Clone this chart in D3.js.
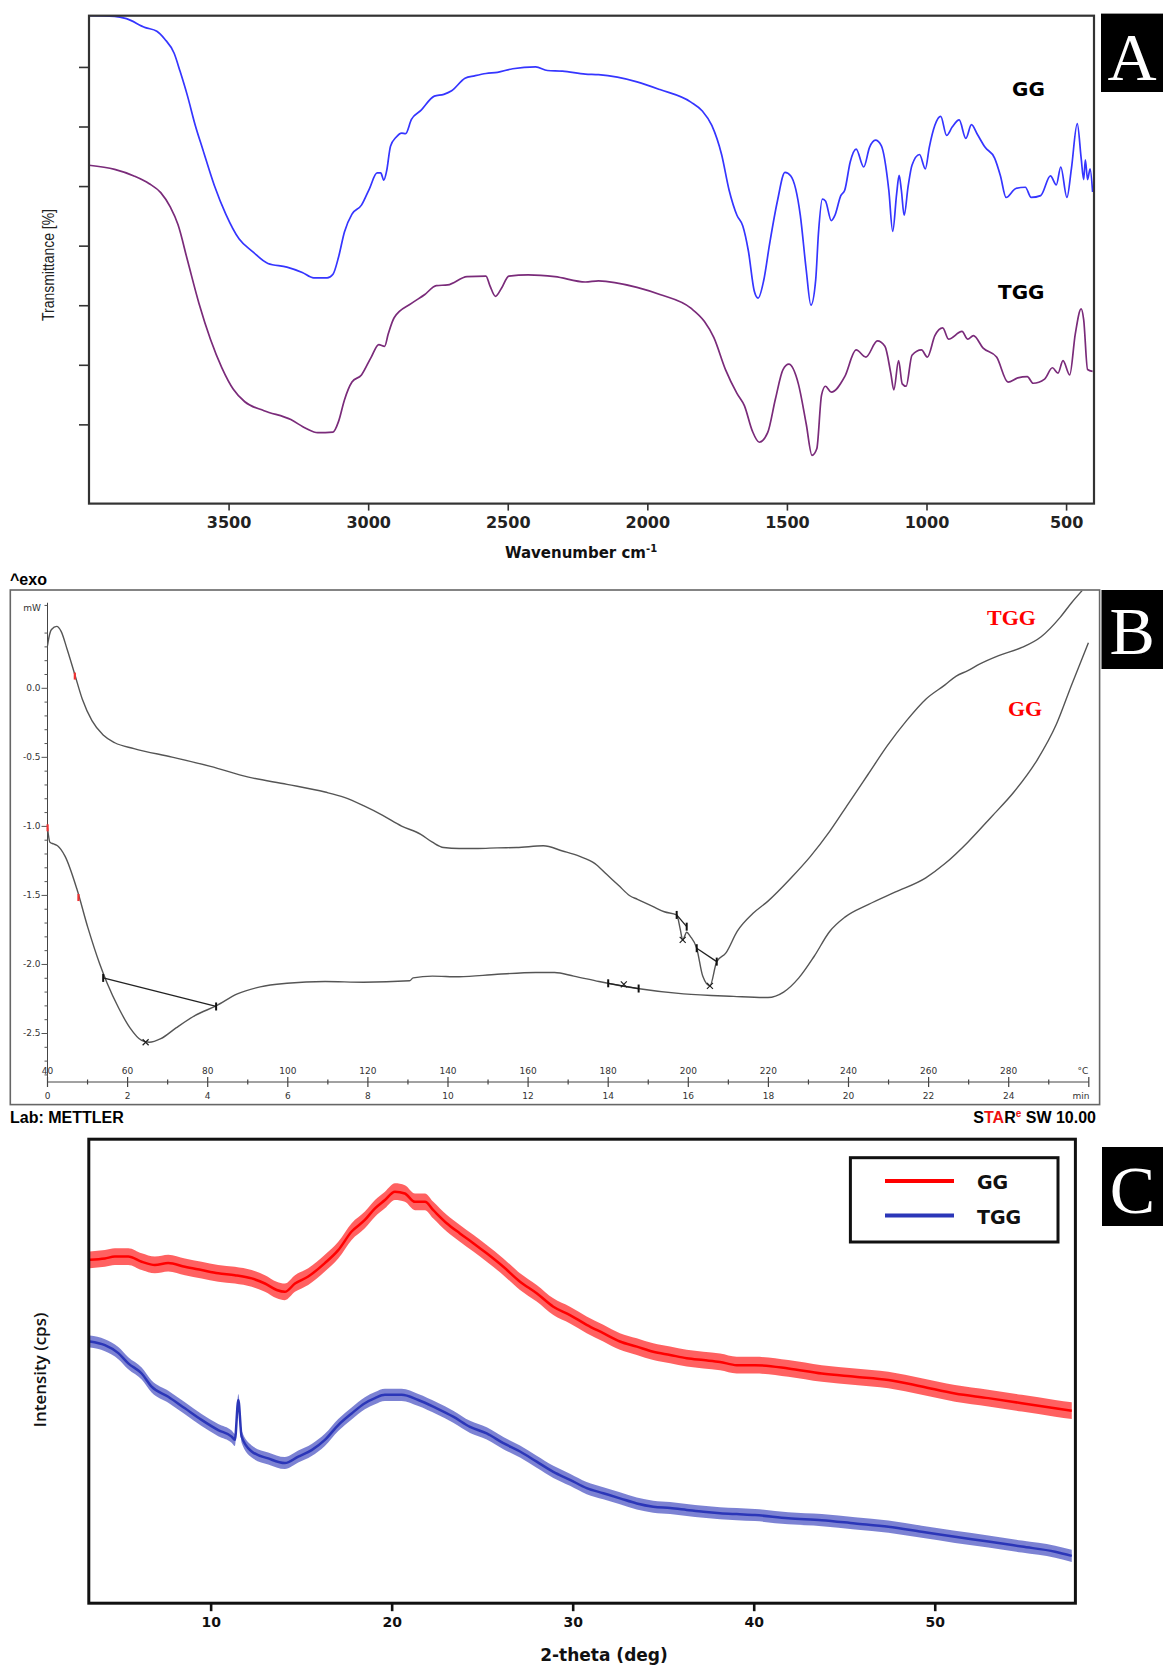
<!DOCTYPE html>
<html>
<head>
<meta charset="utf-8">
<title>FTIR, DSC and XRD of GG and TGG</title>
<style>
  body { margin: 0; background: #fff; }
  svg { display: block; }
  .vb { font-family: "DejaVu Sans", Verdana, sans-serif; font-weight: bold; }
  .ar { font-family: "Liberation Sans", Arial, sans-serif; }
  .sm { font-family: "DejaVu Sans", Verdana, sans-serif; font-size: 9px; fill: #333; }
  .letter { font-family: "Liberation Serif", "Times New Roman", serif; fill: #fff; font-size: 68px; }
</style>
</head>
<body>
<script src="https://cdn.jsdelivr.net/npm/d3@7"></script>
<script>
// ---- panel A : FTIR  [wavenumber cm-1, transmittance %]
var ftirGG = [[4000,88.6],[3908,88.5],[3866,88.1],[3798,86.6],[3757,86.0],[3729,84.7],[3695,82.3],[3674,79.3],[3647,75.1],[3620,70.3],[3592,66.1],[3551,60.1],[3510,55.3],[3462,51.1],[3414,49.0],[3359,47.0],[3291,46.4],[3236,45.5],[3195,44.6],[3147,44.6],[3126,45.2],[3106,48.1],[3085,52.3],[3058,55.3],[3024,56.8],[2996,59.5],[2968,62.2],[2955,62.2],[2944,61.0],[2934,62.5],[2920,66.7],[2900,68.2],[2880,68.9],[2866,68.8],[2845,71.2],[2811,72.7],[2763,75.1],[2729,75.4],[2701,76.0],[2653,78.1],[2619,78.5],[2578,78.9],[2537,79.1],[2482,79.7],[2400,80.0],[2358,79.4],[2304,79.3],[2222,78.8],[2175,78.7],[2037,77.5],[1955,76.2],[1844,74.1],[1803,72.6],[1769,70.2],[1734,65.3],[1707,59.3],[1679,55.1],[1658,53.3],[1638,49.1],[1617,42.4],[1603,41.2],[1583,44.2],[1562,50.3],[1534,57.5],[1507,62.3],[1486,61.7],[1452,55.1],[1431,46.0],[1414,40.0],[1397,44.2],[1387,52.1],[1373,57.8],[1362,57.5],[1341,54.2],[1328,55.1],[1307,58.4],[1293,59.3],[1273,64.1],[1252,66.2],[1225,63.2],[1204,66.5],[1183,67.7],[1162,66.8],[1135,59.3],[1121,52.4],[1107,58.7],[1098,61.8],[1090,59.3],[1080,55.1],[1066,59.9],[1052,63.5],[1025,65.3],[1004,62.9],[990,66.5],[970,70.2],[949,71.7],[928,68.5],[908,69.9],[883,71.1],[859,68.0],[839,70.3],[818,68.7],[790,66.5],[756,64.7],[735,61.7],[715,58.1],[680,59.6],[646,59.8],[625,58.1],[591,58.4],[556,61.7],[535,60.2],[519,63.2],[497,58.1],[481,62.9],[460,70.5],[446,64.7],[437,61.1],[431,64.4],[423,61.1],[414,62.9],[405,59.0]];
var ftirTGG = [[4000,63.5],[3908,62.8],[3839,61.7],[3784,60.4],[3743,58.9],[3709,56.5],[3681,53.5],[3647,47.5],[3606,40.3],[3565,34.3],[3524,29.5],[3483,25.9],[3442,23.8],[3373,22.3],[3277,20.8],[3222,19.3],[3181,18.6],[3126,18.7],[3106,20.5],[3085,24.1],[3058,27.1],[3024,28.3],[2989,31.3],[2962,33.4],[2941,33.1],[2928,35.2],[2907,37.9],[2845,40.3],[2797,41.8],[2756,43.3],[2715,43.4],[2646,44.8],[2578,44.9],[2564,43.3],[2544,41.5],[2523,42.8],[2496,44.9],[2427,45.1],[2331,44.8],[2222,43.9],[2175,44.1],[2037,43.0],[1955,41.8],[1844,39.5],[1796,37.3],[1762,34.6],[1720,29.2],[1679,25.2],[1652,23.1],[1624,18.9],[1599,17.0],[1569,18.6],[1541,24.3],[1514,29.2],[1493,30.1],[1459,26.8],[1431,20.1],[1410,14.8],[1393,15.9],[1376,24.9],[1362,26.4],[1341,25.4],[1293,28.0],[1252,32.5],[1217,31.3],[1176,34.0],[1149,33.1],[1128,28.6],[1117,25.8],[1100,30.7],[1087,26.8],[1073,26.4],[1052,31.6],[1018,32.5],[997,31.3],[970,34.9],[942,36.2],[921,34.3],[873,35.6],[852,34.3],[832,34.9],[797,32.8],[749,31.3],[708,27.1],[673,27.8],[639,28.0],[618,26.9],[577,27.6],[549,29.5],[529,28.6],[511,30.7],[487,28.3],[467,35.2],[446,39.4],[437,37.6],[423,29.2],[405,28.9]];
var ftirXTicks = [3500, 3000, 2500, 2000, 1500, 1000, 500];
var ftirYTicks = [20, 30, 40, 50, 60, 70, 80];

// ---- panel B : DSC  [time min, heat flow mW]
var dscTGG = [[0,0.305],[0.03,0.357],[0.1,0.422],[0.23,0.445],[0.34,0.409],[0.49,0.279],[0.68,0.098],[0.87,-0.083],[1.11,-0.238],[1.39,-0.342],[1.68,-0.398],[2.16,-0.44],[3.11,-0.502],[4.07,-0.569],[5.02,-0.647],[5.98,-0.699],[6.93,-0.755],[7.41,-0.794],[7.89,-0.854],[8.37,-0.924],[8.84,-1.001],[9.32,-1.061],[9.61,-1.118],[9.89,-1.157],[10.28,-1.164],[10.75,-1.164],[11.23,-1.159],[11.71,-1.157],[12.38,-1.144],[12.86,-1.182],[13.29,-1.221],[13.67,-1.273],[13.96,-1.351],[14.25,-1.428],[14.54,-1.506],[14.73,-1.532],[15.11,-1.583],[15.4,-1.622],[15.71,-1.645],[15.8,-1.75],[15.86,-1.826],[15.96,-1.77],[16.05,-1.8],[16.21,-1.886],[16.36,-2.088],[16.54,-2.159],[16.71,-1.983],[16.94,-1.92],[17.22,-1.764],[17.61,-1.635],[17.99,-1.545],[18.57,-1.376],[19.05,-1.221],[19.53,-1.04],[20.01,-0.833],[20.49,-0.626],[20.97,-0.419],[21.45,-0.238],[21.93,-0.083],[22.41,0.021],[22.69,0.085],[22.98,0.124],[23.27,0.171],[23.75,0.233],[24.33,0.292],[24.81,0.37],[25.29,0.512],[25.57,0.616],[25.84,0.706]];
var dscGG = [[0,-1.014],[0.06,-1.118],[0.15,-1.131],[0.25,-1.144],[0.44,-1.221],[0.73,-1.454],[1.01,-1.739],[1.3,-1.997],[1.49,-2.14],[1.78,-2.321],[2.06,-2.463],[2.35,-2.554],[2.54,-2.567],[2.83,-2.541],[3.21,-2.463],[3.69,-2.373],[4.21,-2.303],[4.74,-2.217],[5.31,-2.166],[5.98,-2.14],[6.93,-2.127],[7.89,-2.132],[9.04,-2.122],[9.13,-2.101],[9.61,-2.088],[10.28,-2.093],[11.23,-2.075],[12.19,-2.062],[12.66,-2.062],[13.14,-2.088],[13.77,-2.127],[14.73,-2.178],[15.88,-2.217],[17.13,-2.235],[17.99,-2.243],[18.38,-2.204],[18.76,-2.101],[19.14,-1.946],[19.53,-1.765],[19.91,-1.661],[20.49,-1.57],[21.16,-1.48],[21.93,-1.376],[22.41,-1.273],[22.98,-1.118],[23.56,-0.937],[24.13,-0.755],[24.71,-0.523],[25.19,-0.264],[25.57,0.021],[25.99,0.326]];
var dscYMajor = [0, -0.5, -1, -1.5, -2, -2.5];
var dscMinTicks = [0, 2, 4, 6, 8, 10, 12, 14, 16, 18, 20, 22, 24];
var dscTempTicks = [40, 60, 80, 100, 120, 140, 160, 180, 200, 220, 240, 260, 280];
// evaluation marks drawn by the instrument software
var dscBaselines = [[[1.39,-2.101],[4.21,-2.308]], [[14.0,-2.14],[14.76,-2.178]], [[15.71,-1.645],[15.96,-1.73]], [[16.21,-1.886],[16.71,-1.983]]];
var dscPeaks = [[2.45,-2.567],[14.39,-2.148],[15.86,-1.826],[16.54,-2.159]];
var dscRedMarks = [[0.68,0.085],[0.77,-1.519],[0,-1.014]];

// ---- panel C : XRD  [2-theta deg, intensity]
var xrdGG = [[3.33,74.0],[4.16,74.3],[4.71,74.7],[5.45,74.7],[6.19,73.6],[6.92,72.9],[7.66,73.3],[8.58,72.5],[9.5,71.8],[10.42,71.1],[11.34,70.7],[12.27,70.0],[13.0,68.9],[13.65,67.5],[14.1,67.1],[14.66,68.9],[15.39,70.4],[16.31,73.3],[17.05,76.1],[17.79,80.1],[18.52,82.6],[19.08,85.1],[19.63,86.9],[20.18,88.7],[20.73,88.3],[21.29,86.5],[21.84,86.5],[22.3,84.7],[23.04,81.9],[23.77,79.7],[24.51,77.6],[25.25,75.4],[26.17,72.5],[27.09,69.3],[28.01,66.8],[28.93,63.9],[29.85,62.1],[30.77,60.0],[31.69,58.2],[32.61,56.4],[33.54,55.3],[34.45,54.2],[35.38,53.5],[36.3,52.8],[37.22,52.4],[38.14,52.0],[39.06,51.3],[40.07,51.3],[41.91,50.6],[43.76,49.5],[45.6,48.8],[47.44,48.1],[49.28,46.7],[51.12,45.2],[52.96,44.2],[54.81,43.1],[56.65,42.0],[57.57,41.5]];
var xrdTGG = [[3.33,56.4],[4.16,55.6],[4.9,53.9],[5.45,51.7],[6.19,49.5],[6.74,46.7],[7.66,44.5],[8.58,42.0],[9.5,39.5],[10.42,37.3],[11.16,35.9],[11.34,35.2],[11.53,43.8],[11.71,35.9],[12.27,32.7],[13.18,31.2],[14.1,30.2],[14.84,31.6],[15.58,33.0],[16.31,35.2],[17.05,38.4],[17.79,40.9],[18.52,43.1],[19.08,44.2],[19.63,44.9],[20.55,44.9],[21.47,43.8],[22.49,42.0],[23.4,40.2],[24.33,38.0],[25.25,36.6],[26.17,34.5],[27.09,32.7],[28.01,30.5],[28.93,28.3],[29.85,26.6],[30.77,24.8],[31.69,23.7],[32.61,22.6],[33.54,21.5],[34.45,20.8],[35.38,20.5],[36.3,20.1],[37.22,19.7],[38.14,19.4],[39.06,19.2],[40.07,19.0],[41.91,18.3],[43.76,17.9],[45.6,17.2],[47.44,16.5],[49.28,15.4],[51.12,14.3],[52.96,13.3],[54.81,12.2],[56.65,11.1],[57.57,10.2]];
// half width of the counting-noise band seen on each trace
var xrdNoiseGG = 1.8;
var xrdNoiseTGG = 1.3;
var xrdTicks = [10, 20, 30, 40, 50];
var legendNames = ["GG", "TGG"];

var blue = "#3535ff", purple = "#7a2b7a", dscGrey = "#555", red = "#ff0000", xrdBlue = "#2b36b8";

var svg = d3.select("body").append("svg")
  .attr("width", 1163).attr("height", 1667);

// panel letter boxes
function letterBox(x, y, w, h, base, txt) {
  svg.append("rect").attr("x", x).attr("y", y).attr("width", w).attr("height", h).attr("fill", "#000");
  svg.append("text").attr("class", "letter").attr("x", x + w / 2).attr("y", base)
    .attr("text-anchor", "middle").text(txt);
}

/* ================= A : FTIR ================= */
var ax = d3.scaleLinear().domain([4000, 400]).range([89, 1094]);
var ay = d3.scaleLinear().domain([6.7, 88.6]).range([503.6, 15.7]);

svg.append("clipPath").attr("id", "clipA").append("rect")
  .attr("x", 89).attr("y", 15.7).attr("width", 1005).attr("height", 487.9);

var ftirLine = d3.line().x(function(d) { return ax(d[0]); }).y(function(d) { return ay(d[1]); })
  .curve(d3.curveMonotoneX);

var gA = svg.append("g").attr("clip-path", "url(#clipA)");
gA.append("path").datum(ftirGG).attr("d", ftirLine).attr("fill", "none").attr("stroke", blue).attr("stroke-width", 1.7);
gA.append("path").datum(ftirTGG).attr("d", ftirLine).attr("fill", "none").attr("stroke", purple).attr("stroke-width", 1.7);

var axA = svg.append("g").attr("transform", "translate(0,503.6)")
  .call(d3.axisBottom(ax).tickValues(ftirXTicks).tickFormat(d3.format("d"))
    .tickSize(7).tickSizeOuter(0).tickPadding(6));
axA.select(".domain").remove();
axA.selectAll("line").attr("stroke", "#333").attr("stroke-width", 1.6);
axA.selectAll("text").attr("class", "vb").attr("font-size", 16).attr("fill", "#222");

var ayA = svg.append("g").attr("transform", "translate(89,0)")
  .call(d3.axisLeft(ay).tickValues(ftirYTicks).tickSize(10).tickSizeOuter(0).tickFormat(""));
ayA.select(".domain").remove();
ayA.selectAll("line").attr("stroke", "#333").attr("stroke-width", 1.6);

svg.append("rect").attr("x", 89).attr("y", 15.7).attr("width", 1005).attr("height", 487.9)
  .attr("fill", "none").attr("stroke", "#333").attr("stroke-width", 2.2);

svg.append("text").attr("class", "vb").attr("x", 1012).attr("y", 96).attr("font-size", 20).text("GG");
svg.append("text").attr("class", "vb").attr("x", 998).attr("y", 299).attr("font-size", 20).text("TGG");

var xl = svg.append("text").attr("class", "vb").attr("x", 581).attr("y", 558)
  .attr("text-anchor", "middle").attr("font-size", 15).attr("fill", "#111");
xl.append("tspan").text("Wavenumber cm");
xl.append("tspan").attr("dy", -6).attr("font-size", 10).text("-1");

svg.append("text").attr("transform", "translate(54,265) rotate(-90)")
  .attr("text-anchor", "middle")
  .attr("font-family", "'Liberation Sans Narrow', 'Liberation Sans', Arial, sans-serif")
  .attr("font-size", 16).attr("fill", "#222")
  .attr("textLength", 112).attr("lengthAdjust", "spacingAndGlyphs")
  .text("Transmittance [%]");

letterBox(1101, 13.6, 62, 78.4, 80, "A");

/* ================= B : DSC ================= */
var bx = d3.scaleLinear().domain([0, 26]).range([47.5, 1088.8]);
var bt = d3.scaleLinear().domain([40, 300]).range([47.5, 1088.8]);
var by = d3.scaleLinear().domain([0, -2.5]).range([687.8, 1033]);
var axisY = 1082;

svg.append("rect").attr("x", 10.3).attr("y", 590).attr("width", 1089.3).attr("height", 514.6)
  .attr("fill", "none").attr("stroke", "#666").attr("stroke-width", 1.6);

svg.append("text").attr("class", "ar").attr("x", 10).attr("y", 585)
  .attr("font-size", 16).attr("font-weight", "bold").text("^exo");

// y axis
svg.append("line").attr("x1", 47.5).attr("x2", 47.5).attr("y1", by(0.616)).attr("y2", axisY)
  .attr("stroke", "#444").attr("stroke-width", 1);
var minorY = d3.range(-28, 7).filter(function(i) { return i % 5 !== 0; }).map(function(i) { return i / 10; });
var gyMin = svg.append("g").attr("transform", "translate(47.5,0)")
  .call(d3.axisLeft(by).tickValues(minorY).tickSize(3).tickFormat(""));
gyMin.select(".domain").remove();
var gyMaj = svg.append("g").attr("transform", "translate(47.5,0)")
  .call(d3.axisLeft(by).tickValues(dscYMajor).tickSize(6).tickPadding(1)
    .tickFormat(function(d) { return d.toFixed(1); }));
gyMaj.select(".domain").remove();
gyMin.selectAll("line").attr("stroke", "#555");
gyMaj.selectAll("line").attr("stroke", "#555");
gyMaj.selectAll("text").attr("class", "sm").attr("font-family", null).attr("font-size", null);
svg.append("text").attr("class", "sm").attr("x", 41).attr("y", 611).attr("text-anchor", "end").text("mW");

// x axis (time below, temperature above)
svg.append("line").attr("x1", bx(0)).attr("x2", bx(26)).attr("y1", axisY).attr("y2", axisY)
  .attr("stroke", "#444").attr("stroke-width", 1);
svg.append("g").selectAll("line").data(d3.range(0, 27)).enter().append("line")
  .attr("x1", function(d) { return bx(d); }).attr("x2", function(d) { return bx(d); })
  .attr("y1", function(d) { return d % 2 === 0 ? axisY - 5 : axisY - 2.5; })
  .attr("y2", function(d) { return d % 2 === 0 ? axisY + 5 : axisY + 2.5; })
  .attr("stroke", "#444").attr("stroke-width", 1.2);
svg.append("g").selectAll("text").data(dscMinTicks).enter().append("text")
  .attr("class", "sm").attr("x", function(d) { return bx(d); }).attr("y", 1098.5)
  .attr("text-anchor", "middle").text(function(d) { return d; });
svg.append("g").selectAll("text").data(dscTempTicks).enter().append("text")
  .attr("class", "sm").attr("x", function(d) { return bt(d); }).attr("y", 1074)
  .attr("text-anchor", "middle").text(function(d) { return d; });
svg.append("text").attr("class", "sm").attr("x", 1083).attr("y", 1074).attr("text-anchor", "middle").text("°C");
svg.append("text").attr("class", "sm").attr("x", 1081).attr("y", 1098.5).attr("text-anchor", "middle").text("min");

svg.append("clipPath").attr("id", "clipB").append("rect")
  .attr("x", 11).attr("y", 590.8).attr("width", 1088).attr("height", 492);
var dscLine = d3.line().x(function(d) { return bx(d[0]); }).y(function(d) { return by(d[1]); })
  .curve(d3.curveMonotoneX);
var gB = svg.append("g").attr("clip-path", "url(#clipB)");
gB.append("path").datum(dscTGG).attr("d", dscLine).attr("fill", "none").attr("stroke", dscGrey).attr("stroke-width", 1.4);
gB.append("path").datum(dscGG).attr("d", dscLine).attr("fill", "none").attr("stroke", dscGrey).attr("stroke-width", 1.4);

// evaluation marks
gB.selectAll(".bl").data(dscBaselines).enter().append("path").attr("class", "bl")
  .attr("d", d3.line().x(function(d) { return bx(d[0]); }).y(function(d) { return by(d[1]); }))
  .attr("fill", "none").attr("stroke", "#222").attr("stroke-width", 1.3);
var ends = [];
dscBaselines.forEach(function(b) { ends.push(b[0]); ends.push(b[1]); });
gB.selectAll(".lim").data(ends).enter().append("line").attr("class", "lim")
  .attr("x1", function(d) { return bx(d[0]); }).attr("x2", function(d) { return bx(d[0]); })
  .attr("y1", function(d) { return by(d[1]) - 4; }).attr("y2", function(d) { return by(d[1]) + 4; })
  .attr("stroke", "#111").attr("stroke-width", 2);
gB.selectAll(".pk").data(dscPeaks).enter().append("path").attr("class", "pk")
  .attr("d", function(d) {
    var x = bx(d[0]), y = by(d[1]);
    return "M" + (x - 3) + "," + (y - 3) + "L" + (x + 3) + "," + (y + 3) + "M" + (x - 3) + "," + (y + 3) + "L" + (x + 3) + "," + (y - 3);
  })
  .attr("stroke", "#222").attr("stroke-width", 1.2);
gB.selectAll(".rm").data(dscRedMarks).enter().append("rect").attr("class", "rm")
  .attr("x", function(d) { return bx(d[0]) - 1; }).attr("y", function(d) { return by(d[1]) - 3.5; })
  .attr("width", 2.2).attr("height", 7).attr("fill", "#e33");

svg.append("text").attr("x", 987).attr("y", 625).attr("fill", "#f00").attr("font-size", 22)
  .attr("font-weight", "bold").attr("font-family", "'Liberation Serif', 'Times New Roman', serif").text("TGG");
svg.append("text").attr("x", 1008).attr("y", 716).attr("fill", "#f00").attr("font-size", 22)
  .attr("font-weight", "bold").attr("font-family", "'Liberation Serif', 'Times New Roman', serif").text("GG");

svg.append("text").attr("class", "ar").attr("x", 10).attr("y", 1123)
  .attr("font-size", 16).attr("font-weight", "bold").text("Lab: METTLER");
var star = svg.append("text").attr("class", "ar").attr("x", 1096).attr("y", 1123)
  .attr("text-anchor", "end").attr("font-size", 16).attr("font-weight", "bold");
star.append("tspan").text("S");
star.append("tspan").attr("fill", "#e11").text("TA");
star.append("tspan").text("R");
star.append("tspan").attr("fill", "#e11").attr("font-size", 10).attr("dy", -6).text("e");
star.append("tspan").attr("dy", 6).text(" SW 10.00");

letterBox(1101.5, 590, 61.5, 79, 654, "B");

/* ================= C : XRD ================= */
var cx = d3.scaleLinear().domain([3.27, 57.77]).range([88.8, 1075.4]);
var cy = d3.scaleLinear().domain([0, 100]).range([1603.2, 1139.2]);

svg.append("clipPath").attr("id", "clipC").append("rect")
  .attr("x", 88.8).attr("y", 1139.2).attr("width", 986.6).attr("height", 464);
var gC = svg.append("g").attr("clip-path", "url(#clipC)");

function xrdTrace(data, noise, col) {
  var band = d3.area().x(function(d) { return cx(d[0]); })
    .y0(function(d) { return cy(d[1] - noise); }).y1(function(d) { return cy(d[1] + noise); })
    .curve(d3.curveMonotoneX);
  gC.append("path").datum(data).attr("d", band).attr("fill", col).attr("fill-opacity", 0.62);
  gC.append("path").datum(data)
    .attr("d", d3.line().x(function(d) { return cx(d[0]); }).y(function(d) { return cy(d[1]); }).curve(d3.curveMonotoneX))
    .attr("fill", "none").attr("stroke", col).attr("stroke-width", 2.5);
}
xrdTrace(xrdGG, xrdNoiseGG, red);
xrdTrace(xrdTGG, xrdNoiseTGG, xrdBlue);

var axC = svg.append("g").attr("transform", "translate(0,1603.2)")
  .call(d3.axisBottom(cx).tickValues(xrdTicks).tickSize(8).tickSizeOuter(0).tickPadding(6));
axC.select(".domain").remove();
axC.selectAll("line").attr("stroke", "#111").attr("stroke-width", 2.6);
axC.selectAll("text").attr("class", "vb").attr("font-size", 14).attr("fill", "#111");

svg.append("rect").attr("x", 88.8).attr("y", 1139.2).attr("width", 986.6).attr("height", 464)
  .attr("fill", "none").attr("stroke", "#111").attr("stroke-width", 3);

svg.append("text").attr("class", "vb").attr("x", 604).attr("y", 1661)
  .attr("text-anchor", "middle").attr("font-size", 17).attr("fill", "#111").text("2-theta (deg)");
svg.append("text").attr("transform", "translate(46,1370) rotate(-90)")
  .attr("text-anchor", "middle").attr("font-family", "'Open Sans', 'DejaVu Sans', sans-serif")
  .attr("font-weight", 600).attr("font-size", 17).attr("fill", "#111").text("Intensity (cps)");

// legend
svg.append("rect").attr("x", 850.4).attr("y", 1157.7).attr("width", 207.6).attr("height", 84.3)
  .attr("fill", "#fff").attr("stroke", "#111").attr("stroke-width", 3);
var legCols = [red, xrdBlue];
var lg = svg.append("g").selectAll("g").data(legendNames).enter().append("g")
  .attr("transform", function(d, i) { return "translate(0," + (1181 + i * 34.5) + ")"; });
lg.append("line").attr("x1", 885).attr("x2", 954).attr("y1", 0).attr("y2", 0)
  .attr("stroke", function(d, i) { return legCols[i]; }).attr("stroke-width", 4);
lg.append("text").attr("class", "vb").attr("x", 977).attr("y", 8).attr("font-size", 19)
  .attr("fill", "#111").text(function(d) { return d; });

letterBox(1102, 1147, 61, 79, 1213, "C");
</script>
</body>
</html>
